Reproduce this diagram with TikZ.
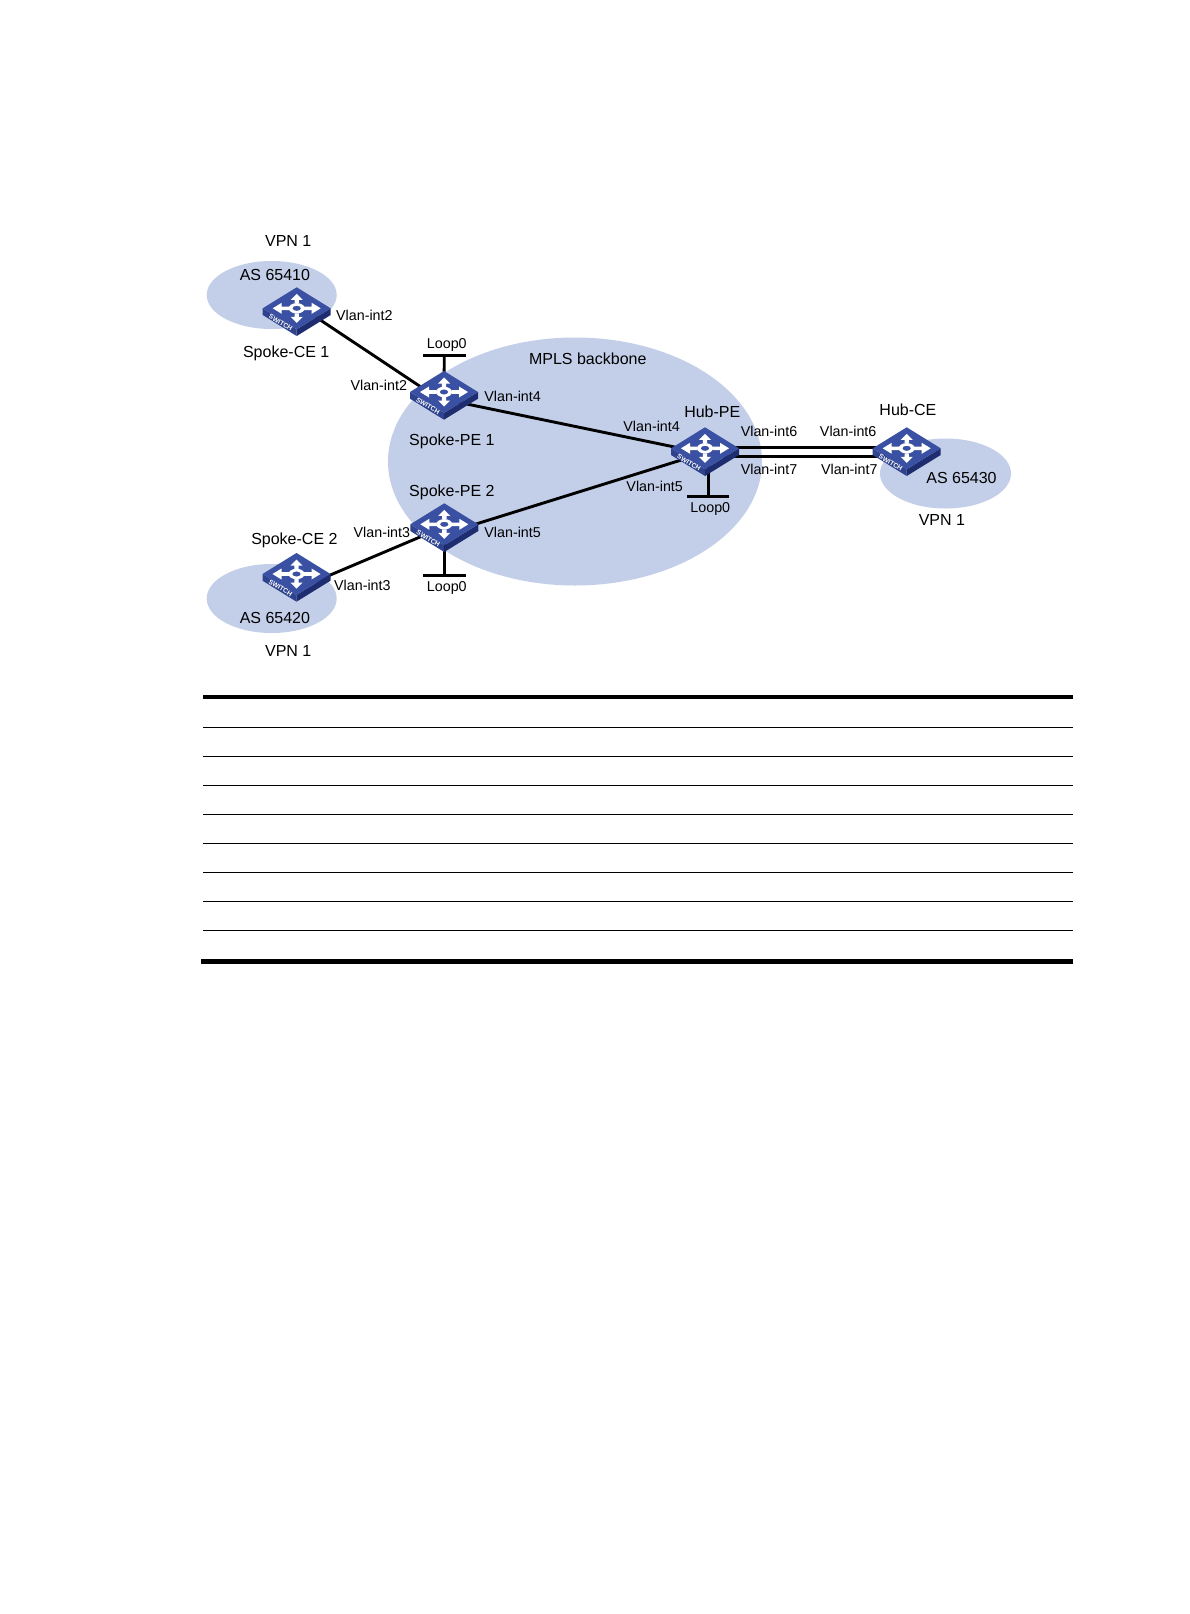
\documentclass[tikz,border=0pt]{standalone}
\usepackage{fontspec}
\setmainfont{Liberation Sans}
\usetikzlibrary{calc}
\definecolor{cloud}{RGB}{195,207,232}
\definecolor{swtop}{RGB}{58,80,162}
\definecolor{swleft}{RGB}{46,66,142}
\definecolor{swright}{RGB}{30,44,112}
\tikzset{
  x=1pt,y=-1pt,
  cloudshape/.style={fill=cloud,draw=none},
  link/.style={line width=2.9pt,black},
  bar/.style={line width=2.6pt,black},
  lbl/.style={inner sep=0pt,yshift=0.3pt,font=\fontsize{16}{18}\selectfont,text=black},
  ifl/.style={inner sep=0pt,yshift=0.3pt,font=\fontsize{14.3}{16}\selectfont,text=black},
  thinrule/.style={line width=1pt,black},
  thickrule/.style={line width=4.4pt,black},
  swcoord/.style={coordinate},
  pics/switchicon/.style={code={
    \fill[swleft] (-34,0) -- (0,21) -- (0,27.7) -- (-34,6.7) -- cycle;
    \fill[swright] (34,0) -- (0,21) -- (0,27.7) -- (34,6.7) -- cycle;
    \fill[swtop] (-34,0) -- (0,-21) -- (34,0) -- (0,21) -- cycle;
    \fill[white,even odd rule] (0,0) ellipse (8 and 5.2) (0,0) ellipse (4.3 and 2.6);
    \fill[white] (-2.2,-5) -- (-2.2,-8.5) -- (-6,-8.5) -- (0,-14.5) -- (6,-8.5) -- (2.2,-8.5) -- (2.2,-5) -- cycle;
    \fill[white] (-2.2,5) -- (-2.2,8.5) -- (-6,8.5) -- (0,14.5) -- (6,8.5) -- (2.2,8.5) -- (2.2,5) -- cycle;
    \fill[white] (-7.5,-1.8) -- (-15,-1.8) -- (-15,-5.5) -- (-24,0) -- (-15,5.5) -- (-15,1.8) -- (-7.5,1.8) -- cycle;
    \fill[white] (7.5,-1.8) -- (15,-1.8) -- (15,-5.5) -- (24,0) -- (15,5.5) -- (15,1.8) -- (7.5,1.8) -- cycle;
    \node[inner sep=0pt,text=white,font=\bfseries\fontsize{6.6}{7}\selectfont,rotate=-31] at (-16,14.2) {SWITCH};
  }}
}
\begin{document}
\begin{tikzpicture}
\useasboundingbox (0,0) rectangle (1190,1614);
\fill[white] (0,0) rectangle (1190,1614);
% clouds
\path[cloudshape] (271.7,295) ellipse (65 and 34);
\path[cloudshape] (271.7,598.5) ellipse (65 and 34.5);
\path[cloudshape] (575,461.5) ellipse (187 and 124);
\path[cloudshape] (945.5,473.5) ellipse (65.5 and 35);
% switch anchors
\node[swcoord] (ce1) at (296.7,308.3) {};
\node[swcoord] (ce2) at (296.5,574) {};
\node[swcoord] (pe1) at (444,392) {};
\node[swcoord] (pe2) at (444.3,524.3) {};
\node[swcoord] (hubpe) at (705,448.3) {};
\node[swcoord] (hubce) at (906.7,448.3) {};
% loopback ends
\coordinate (lpa) at (444.3,355.3);
\coordinate (lpb) at (444.3,575.3);
\coordinate (lpc) at (708.3,496.7);
% connectors
\draw[link] ([shift={(0,-4)}]ce1) -- ([shift={(0,10.3)}]pe1);
\draw[link] ([shift={(0,15.3)}]ce2) -- ([shift={(0,2.4)}]pe2);
\draw[link] ([shift={(0,7.3)}]pe1) -- ([shift={(0,5)}]hubpe);
\draw[link] ([shift={(0,9.6)}]pe2) -- ([shift={(0,4.3)}]hubpe);
\draw[link] ([shift={(0,-1)}]hubpe) -- ([shift={(0,-1)}]hubce);
\draw[link] ([shift={(0,8)}]hubpe) -- ([shift={(0,8)}]hubce);
\draw[link] (lpa) -- (pe1);
\draw[link] (lpb) -- (pe2);
\draw[link] (lpc) -- (lpc |- hubpe);
\draw[bar] ([shift={(-21,0)}]lpa) -- ([shift={(21.5,0)}]lpa);
\draw[bar] ([shift={(-21,0)}]lpb) -- ([shift={(21.5,0)}]lpb);
\draw[bar] ([shift={(-21,0)}]lpc) -- ([shift={(21,0)}]lpc);
% switches
\pic at (ce1) {switchicon};
\pic at (ce2) {switchicon};
\pic at (pe1) {switchicon};
\pic at (pe2) {switchicon};
\pic at (hubpe) {switchicon};
\pic at (hubce) {switchicon};
% labels
\node[lbl] (t1) at (288.2,240.9) {VPN 1};
\node[lbl] (t2) at (274.9,274.9) {AS 65410};
\node[ifl] (t3) at (364.4,316) {Vlan-int2};
\node[lbl] (t4) at (286.2,353.6) {Spoke-CE 1};
\node[ifl] (t5) at (446.8,344.8) {Loop0};
\node[lbl] (t6) at (587.8,359.5) {MPLS backbone};
\node[ifl] (t7) at (378.8,386) {Vlan-int2};
\node[ifl] (t8) at (512.6,396.3) {Vlan-int4};
\node[lbl] (t9) at (451.9,441.8) {Spoke-PE 1};
\node[ifl] (t10) at (651.6,426.2) {Vlan-int4};
\node[lbl] (t11) at (712.3,411.8) {Hub-PE};
\node[ifl] (t12) at (769,431.3) {Vlan-int6};
\node[ifl] (t13) at (848.2,431.3) {Vlan-int6};
\node[lbl] (t14) at (907.9,409.7) {Hub-CE};
\node[ifl] (t15) at (769,469.4) {Vlan-int7};
\node[ifl] (t16) at (849.3,469.4) {Vlan-int7};
\node[lbl] (t17) at (961.5,477.8) {AS 65430};
\node[lbl] (t18) at (941.9,519.9) {VPN 1};
\node[ifl] (t19) at (654.7,486.4) {Vlan-int5};
\node[ifl] (t20) at (710.3,509) {Loop0};
\node[lbl] (t21) at (451.9,492.6) {Spoke-PE 2};
\node[ifl] (t22) at (381.9,532.2) {Vlan-int3};
\node[ifl] (t23) at (512.6,532.2) {Vlan-int5};
\node[lbl] (t24) at (294.4,540.9) {Spoke-CE 2};
\node[ifl] (t25) at (362.4,585.2) {Vlan-int3};
\node[ifl] (t26) at (446.8,587.8) {Loop0};
\node[lbl] (t27) at (274.9,618.7) {AS 65420};
\node[lbl] (t28) at (288.2,651.6) {VPN 1};
% table rules
\draw[thickrule] (203,696.8) -- (1073,696.8);
\foreach \yy in {727.3,756.3,785.3,814.3,843.3,872.3,901.3,930.3}
  \draw[thinrule] (203,\yy) -- (1073,\yy);
\draw[thickrule,line width=5pt] (201,961.7) -- (1073,961.7);
\end{tikzpicture}
\end{document}
